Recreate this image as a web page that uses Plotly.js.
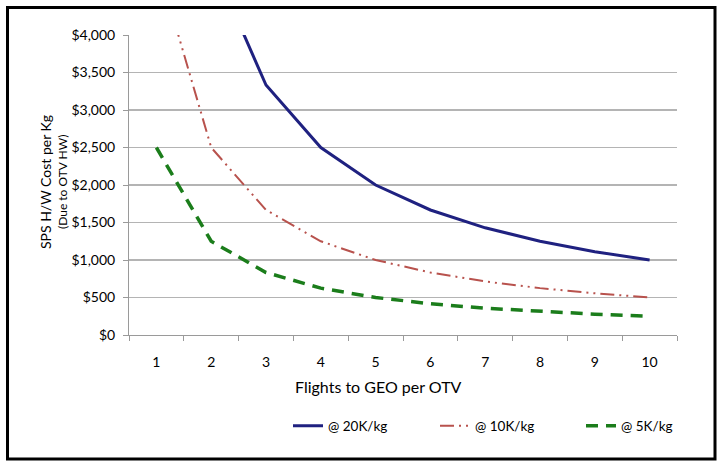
<!DOCTYPE html>
<html>
<head>
<meta charset="utf-8">
<script src="https://cdn.plot.ly/plotly-3.0.1.min.js"></script>
<style>
html,body{margin:0;padding:0;background:#fff;}
#chart{width:717px;height:461px;}
</style>
</head>
<body>
<div id="chart"></div>
<script>
// Data
const flights = ['1','2','3','4','5','6','7','8','9','10'];
const cost20K = [10000, 5000, 3333, 2500, 2000, 1667, 1429, 1250, 1111, 1000];
const cost10K = [5000, 2500, 1667, 1250, 1000, 833, 714, 625, 556, 500];
const cost5K  = [2500, 1250, 833, 625, 500, 417, 357, 313, 278, 250];
const seriesNames = ['@ 20K/kg', '@ 10K/kg', '@ 5K/kg'];
const yTicks = [0, 500, 1000, 1500, 2000, 2500, 3000, 3500, 4000];
const yTickText = ['$0', '$500', '$1,000', '$1,500', '$2,000', '$2,500', '$3,000', '$3,500', '$4,000'];

const font = 'Lato, "Open Sans", sans-serif';
const ink = '#000';

const traces = [
  {x: flights, y: cost20K, name: seriesNames[0], type: 'scatter', mode: 'lines', legend: 'legend',
   line: {color: '#1f2180', width: 3}},
  {x: flights, y: cost10K, name: seriesNames[1], type: 'scatter', mode: 'lines', legend: 'legend2',
   line: {color: '#b8524d', width: 2, dash: '14px,5px,2px,5px,2px,5px'}},
  {x: flights, y: cost5K, name: seriesNames[2], type: 'scatter', mode: 'lines', legend: 'legend3',
   line: {color: '#1b7d1b', width: 3.5, dash: '12px,8px'}}
];

const L = 129, R = 677, T = 35, B = 335;
const W = R - L, H = B - T;
const px = v => (v - L) / W;
const py = v => (B - v) / H;

function leg(xLineStart) {
  return {
    orientation: 'h', x: px(xLineStart - 5), xanchor: 'left', y: py(426), yanchor: 'middle',
    font: {family: font, size: 13.5, color: ink},
    bgcolor: 'rgba(0,0,0,0)', borderwidth: 0
  };
}

const layout = {
  width: 717, height: 461,
  margin: {l: L, r: 717 - R, t: T, b: 461 - B},
  paper_bgcolor: '#fff', plot_bgcolor: '#fff',
  font: {family: font, color: ink, size: 13},
  showlegend: true,
  hovermode: false,
  xaxis: {
    type: 'category', range: [-0.5, 9.5],
    tickson: 'boundaries', ticks: 'outside', ticklen: 5, tickcolor: '#9a9a9a',
    showline: true, linecolor: '#9a9a9a', linewidth: 1,
    showgrid: false, zeroline: false,
    tickfont: {family: font, size: 14, color: ink},
    ticklabelstandoff: 14
  },
  yaxis: {
    range: [0, 4000], tickvals: yTicks, ticktext: yTickText,
    ticks: 'outside', ticklen: 5, tickcolor: '#9a9a9a',
    showline: true, linecolor: '#9a9a9a', linewidth: 1,
    showgrid: true, gridcolor: '#b4b4b4', gridwidth: 1.6,
    zeroline: false,
    tickfont: {family: font, size: 14, color: ink},
    ticklabelstandoff: 5
  },
  legend: leg(293),
  legend2: leg(440),
  legend3: leg(586),
  annotations: [
    {text: 'SPS H/W Cost per Kg', xref: 'paper', yref: 'paper', x: px(45), y: py(182),
     textangle: -90, showarrow: false, xanchor: 'center', yanchor: 'middle',
     font: {family: font, size: 14, color: ink}},
    {text: '(Due to OTV HW)', xref: 'paper', yref: 'paper', x: px(62), y: py(182),
     textangle: -90, showarrow: false, xanchor: 'center', yanchor: 'middle',
     font: {family: font, size: 12, color: ink}},
    {text: 'Flights to GEO per OTV', xref: 'paper', yref: 'paper', x: px(378), y: py(386),
     showarrow: false, xanchor: 'center', yanchor: 'middle',
     font: {family: font, size: 16, color: ink}}
  ],
  shapes: [
    {type: 'rect', xref: 'paper', yref: 'paper',
     x0: px(7.5), x1: px(715), y0: py(459), y1: py(7.5),
     line: {color: '#000', width: 3}, fillcolor: 'rgba(0,0,0,0)', layer: 'above'}
  ]
};

Plotly.newPlot('chart', traces, layout, {displayModeBar: false, staticPlot: true});
</script>
</body>
</html>
